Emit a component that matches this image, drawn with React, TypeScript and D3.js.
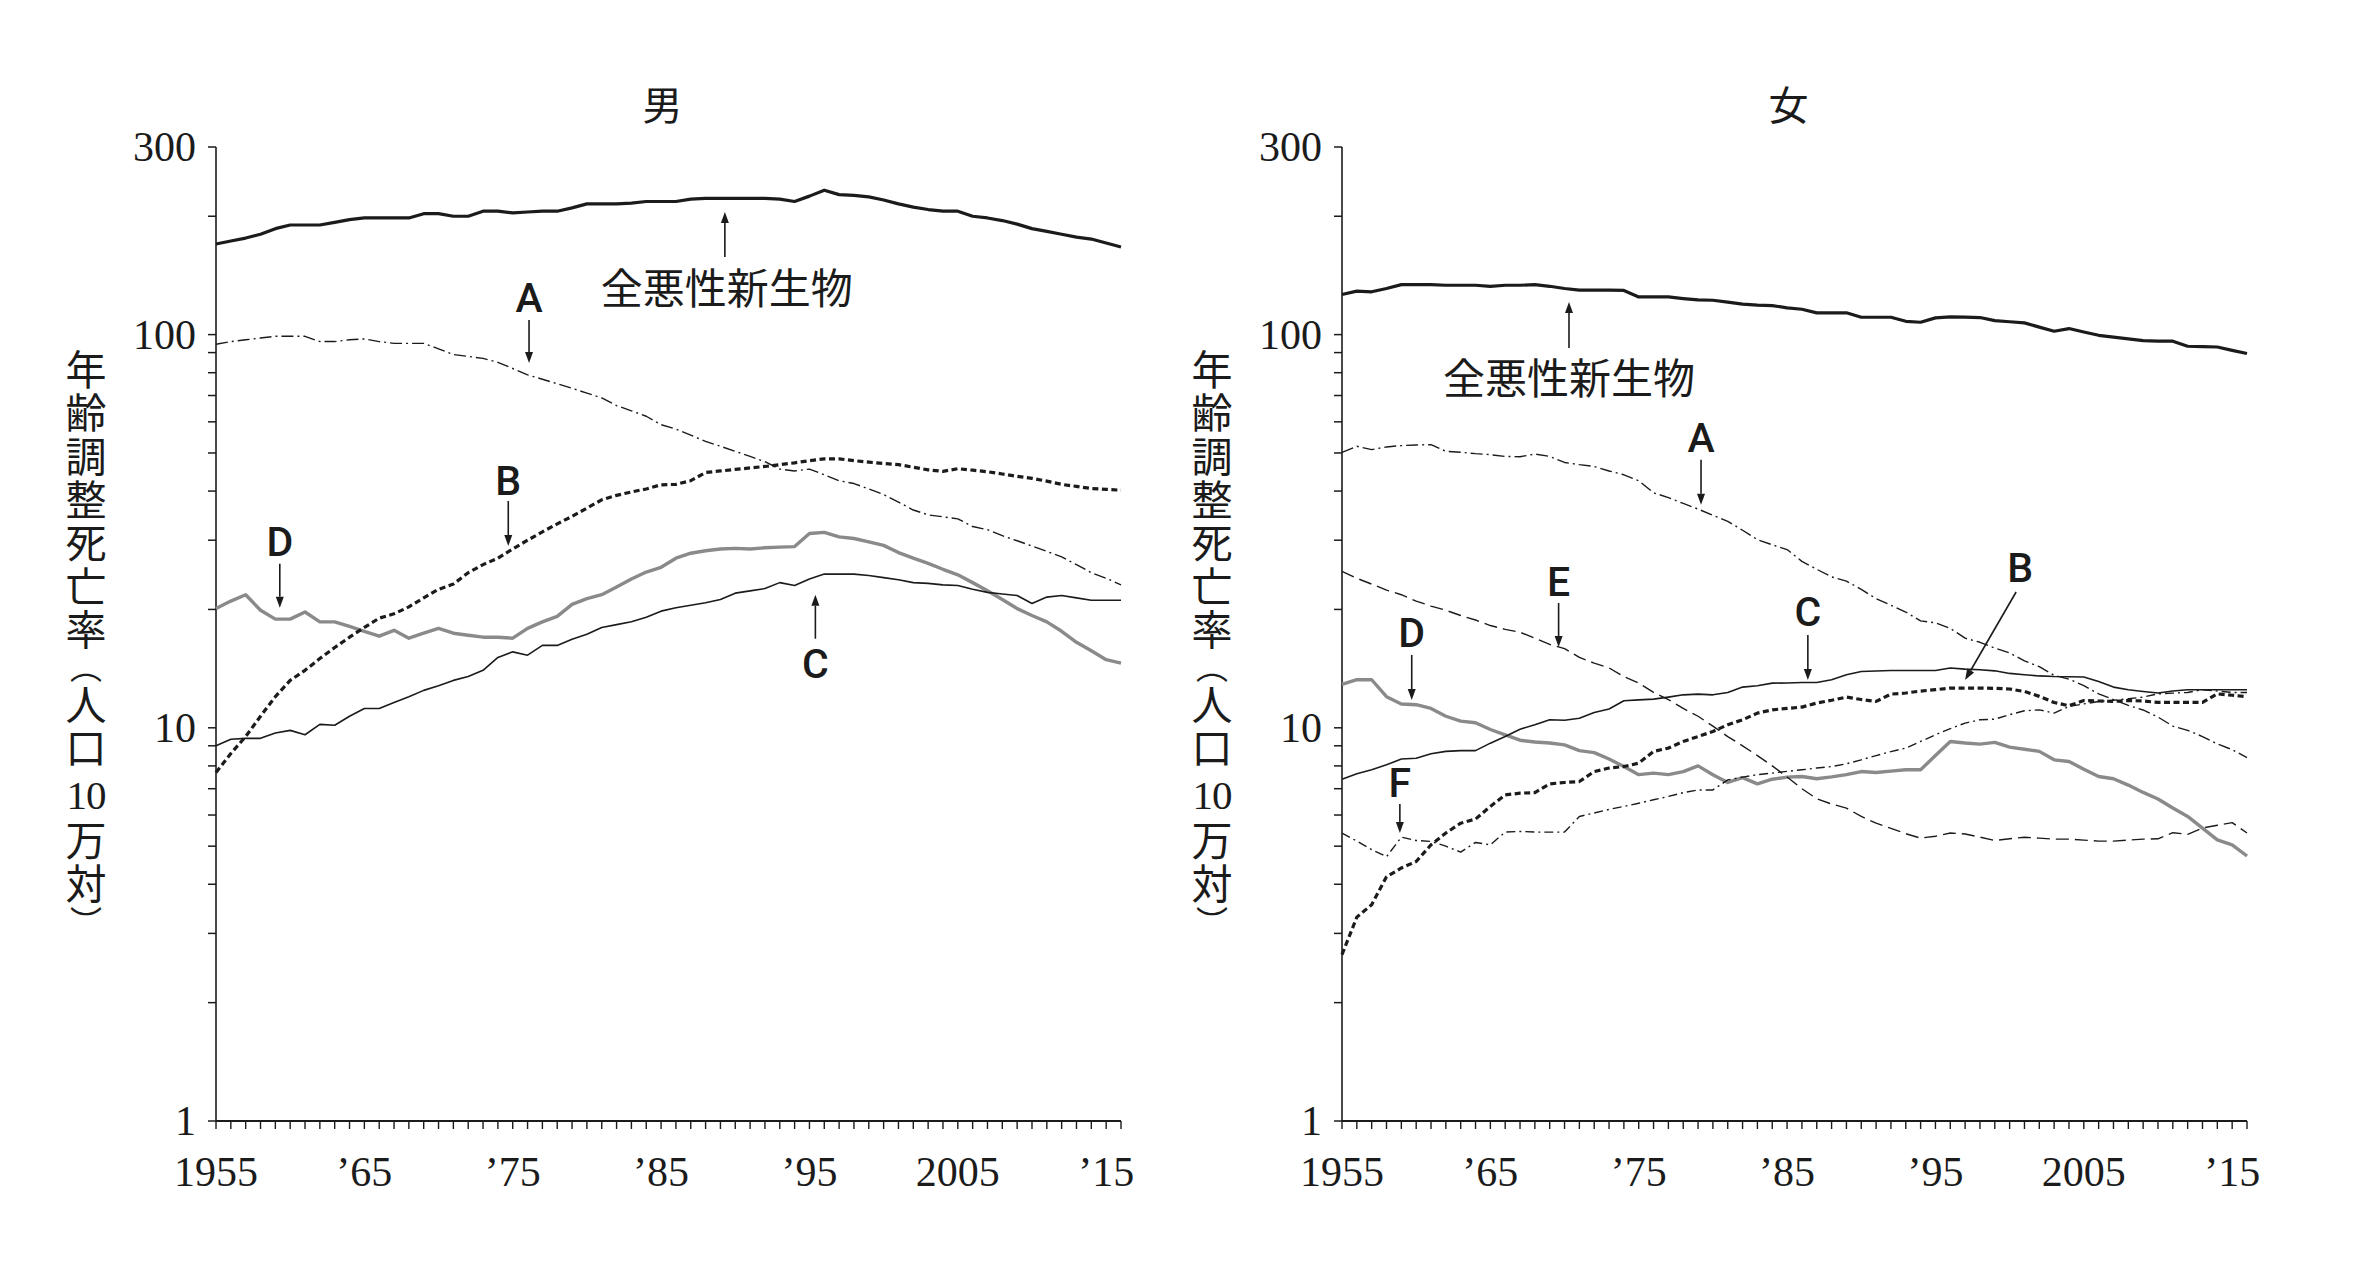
import React from "react";
import * as d3 from "d3";

// ---------- data (age-adjusted death rate per 100,000) ----------
const years: number[] = d3.range(1955, 2017);

const maleTotal = [
  170, 173, 176, 180, 186, 190, 190, 190, 193, 196,
  198, 198, 198, 198, 203, 203, 200, 200, 206, 206,
  204, 205, 206, 206, 210, 215, 215, 215, 216, 218,
  218, 218, 221, 222, 222, 222, 222, 222, 221, 218,
  225, 233, 227, 226, 224, 220, 215, 211, 208, 206,
  206, 200, 198, 195, 191, 186, 183, 180, 177, 175,
  171, 167,
];
const maleA = [
  94.5, 96, 97, 98, 99, 99, 99, 96, 96, 97,
  97.5, 96, 95, 95, 95, 92, 89, 88, 87, 85,
  82, 79, 77, 75, 73, 71, 69, 66, 64, 62,
  59, 57.5, 55.5, 53.5, 52, 50.5, 49, 47.5, 45.5, 45,
  45.5, 44, 42.5, 41.8, 40.5, 39.2, 37.5, 35.8, 34.8, 34.4,
  34, 32.5, 31.9, 30.8, 29.9, 29, 28.1, 27.2, 26, 24.8,
  24, 23.1,
];
const maleB = [
  7.7, 8.6, 9.5, 10.7, 12.0, 13.2, 14.0, 15.0, 16.0, 17.0,
  18.0, 19.0, 19.5, 20.3, 21.4, 22.5, 23.2, 24.8, 26.0, 27.0,
  28.5, 30.0, 31.5, 33.0, 34.5, 36.2, 38.0, 39.0, 39.8, 40.5,
  41.5, 41.6, 42.5, 44.6, 45.0, 45.4, 45.8, 46.2, 46.7, 47.2,
  47.8, 48.3, 48.3, 47.8, 47.4, 47.0, 46.7, 46.0, 45.3, 44.9,
  45.6, 45.2, 44.8, 44.2, 43.6, 43.1, 42.4, 41.6, 41.1, 40.6,
  40.4, 40.2,
];
const maleC = [
  9.0, 9.35, 9.4, 9.4, 9.7, 9.85, 9.6, 10.2, 10.15, 10.7,
  11.2, 11.2, 11.6, 12.0, 12.45, 12.8, 13.2, 13.5, 14.0, 15.1,
  15.6, 15.3, 16.2, 16.2, 16.8, 17.3, 18.0, 18.3, 18.6, 19.1,
  19.8, 20.2, 20.5, 20.8, 21.2, 22.0, 22.3, 22.6, 23.4, 23.0,
  23.9, 24.6, 24.6, 24.6, 24.4, 24.1, 23.8, 23.4, 23.3, 23.1,
  23.0, 22.5, 22.1, 21.9, 21.7, 20.7, 21.5, 21.7, 21.4, 21.1,
  21.1, 21.1,
];
const maleD = [
  20.1, 21.0, 21.8, 19.9, 18.9, 18.9, 19.7, 18.6, 18.6, 18.1,
  17.6, 17.1, 17.7, 16.9, 17.4, 17.9, 17.4, 17.2, 17.0, 17.0,
  16.9, 17.9, 18.6, 19.2, 20.6, 21.3, 21.8, 22.8, 23.9, 24.9,
  25.6, 27.0, 27.8, 28.2, 28.5, 28.6, 28.5, 28.7, 28.8, 28.9,
  31.2, 31.4, 30.6, 30.3, 29.7, 29.1, 27.9, 27.0, 26.2, 25.3,
  24.5, 23.4, 22.3, 21.2, 20.1, 19.3, 18.6, 17.6, 16.5, 15.7,
  14.9, 14.6,
];

const femaleTotal = [
  126.5, 129, 128.5, 131, 134, 134, 134, 133.5, 133.5, 133.5,
  132.7, 133.5, 133.5, 134, 132.7, 131, 129.7, 129.7, 129.7, 129.5,
  124.7, 124.7, 124.7, 123.5, 122.5, 122.3, 121, 119.5, 118.8, 118.5,
  117, 116, 113.6, 113.6, 113.6, 110.7, 110.7, 110.7, 108.1, 107.5,
  110.3, 110.9, 110.8, 110.5, 108.5, 107.8, 107.1, 104.5, 102, 103.6,
  101.5, 99.6, 98.5, 97.5, 96.5, 96.3, 96.2, 93.4, 93.2, 93.0,
  91.2, 89.5,
];
const femaleA = [
  50.2, 52.0, 51.0, 51.8, 52.2, 52.4, 52.5, 50.5, 50.2, 49.8,
  49.5, 49.0, 48.9, 49.7, 49.0, 47.3, 46.7, 46.2, 45.0, 44.0,
  42.5, 39.6, 38.5, 37.2, 36.0, 34.7, 33.5, 31.8, 30.1, 29.2,
  28.4, 26.5, 25.3, 24.2, 23.6, 22.5, 21.3, 20.5, 19.7, 18.7,
  18.5, 17.9, 16.9, 16.5, 15.95, 15.5, 14.8, 14.3, 13.6, 13.3,
  12.8, 12.2, 11.8, 11.4, 11.1, 10.65, 10.1, 9.85, 9.5, 9.1,
  8.8, 8.4,
];
const femaleB = [
  2.65, 3.3, 3.55, 4.18, 4.4, 4.57, 5.04, 5.4, 5.72, 5.86,
  6.31, 6.75, 6.82, 6.84, 7.2, 7.26, 7.3, 7.74, 7.9, 7.97,
  8.13, 8.71, 8.88, 9.23, 9.5, 9.79, 10.18, 10.48, 10.9, 11.11,
  11.2, 11.29, 11.56, 11.75, 11.97, 11.8, 11.67, 12.18, 12.26, 12.4,
  12.5, 12.62, 12.62, 12.62, 12.6, 12.55, 12.37, 12.02, 11.6, 11.38,
  11.73, 11.7, 11.67, 11.73, 11.7, 11.6, 11.6, 11.6, 11.6, 12.2,
  12.1, 12.0,
];
const femaleC = [
  7.4, 7.64, 7.82, 8.05, 8.33, 8.37, 8.59, 8.71, 8.75, 8.75,
  9.14, 9.5, 9.92, 10.18, 10.48, 10.45, 10.58, 10.94, 11.16, 11.72,
  11.78, 11.83, 11.97, 12.13, 12.18, 12.13, 12.3, 12.69, 12.79, 12.99,
  13.0, 13.04, 13.04, 13.25, 13.64, 13.91, 13.95, 13.99, 13.99, 13.99,
  13.99, 14.19, 14.1, 14.05, 13.96, 13.75, 13.64, 13.55, 13.5, 13.48,
  13.46, 13.12, 12.69, 12.5, 12.37, 12.26, 12.4, 12.5, 12.5, 12.5,
  12.5, 12.5,
];
const femaleD = [
  12.9, 13.25, 13.25, 12.0, 11.5, 11.45, 11.2, 10.7, 10.4, 10.3,
  9.9, 9.6, 9.3, 9.2, 9.15, 9.05, 8.75, 8.65, 8.33, 7.97,
  7.6, 7.67, 7.6, 7.74, 8.0, 7.6, 7.26, 7.47, 7.2, 7.4,
  7.49, 7.52, 7.42, 7.5, 7.6, 7.74, 7.7, 7.76, 7.82, 7.82,
  8.5, 9.23, 9.15, 9.09, 9.18, 8.93, 8.82, 8.71, 8.29, 8.21,
  7.85, 7.52, 7.42, 7.15, 6.85, 6.59, 6.25, 5.95, 5.56, 5.19,
  5.04, 4.72,
];
const femaleE = [
  25.0, 24.0, 23.2, 22.4, 21.8, 21.0, 20.4, 19.9, 19.3, 18.8,
  18.2, 17.8, 17.5, 16.9, 16.3, 15.9, 15.1, 14.6, 14.2, 13.5,
  13.0, 12.3, 11.8, 11.2, 10.7, 10.1, 9.5, 9.0, 8.5, 8.0,
  7.5, 7.0, 6.6, 6.4, 6.25, 5.95, 5.72, 5.55, 5.38, 5.24,
  5.3, 5.4, 5.37, 5.27, 5.17, 5.22, 5.27, 5.24, 5.21, 5.21,
  5.18, 5.15, 5.15, 5.18, 5.21, 5.22, 5.41, 5.36, 5.56, 5.65,
  5.74, 5.4,
];
const femaleF = [
  5.4, 5.15, 4.9, 4.7, 5.27, 5.17, 5.14, 5.0, 4.83, 5.11,
  5.04, 5.43, 5.45, 5.43, 5.43, 5.43, 5.95, 6.07, 6.2, 6.31,
  6.43, 6.56, 6.69, 6.84, 6.95, 6.95, 7.37, 7.49, 7.6, 7.67,
  7.75, 7.82, 7.9, 7.97, 8.1, 8.29, 8.5, 8.7, 8.88, 9.23,
  9.6, 9.95, 10.28, 10.48, 10.52, 10.8, 11.05, 11.11, 10.9, 11.33,
  11.5, 11.67, 11.75, 11.85, 11.97, 12.2, 12.25, 12.3, 12.5, 12.4,
  12.3, 12.3,
];

const yTickLabels = [1, 10, 100, 300];
const yMinorTicks = [2, 3, 4, 5, 6, 7, 8, 9, 20, 30, 40, 50, 60, 70, 80, 90, 200];
const xLabelYears = [1955, 1965, 1975, 1985, 1995, 2005, 2015];
const xLabelTexts = ["1955", "’65", "’75", "’85", "’95", "2005", "’15"];

const titles = ["男", "女"];
const totalLabel = "全悪性新生物";
// vertical axis title pieces: 年齢調整死亡率（人口10万対）
const yTitleMain = "年齢調整死亡率";
const yTitleOpen = "（";
const yTitleUnitA = "人口";
const yTitleNum = "10";
const yTitleUnitB = "万対";
const yTitleClose = "）";

// ---------- layout / styles ----------
const PANEL_W = 905;
const LEFT_X0 = 216;
const RIGHT_X0 = 1342;
const Y_TOP = 147;
const Y_BOTTOM = 1121;
const INK = "#1b1b1b";
const GRAY = "#8a8a8a";
const CJK = "'Noto Sans CJK JP'";

type Style = { stroke: string; width: number; dash?: string };
const STY: Record<string, Style> = {
  T: { stroke: INK, width: 3.2 },
  A: { stroke: INK, width: 1.4, dash: "12 4 2 4" },
  B: { stroke: INK, width: 3.2, dash: "6 3.5" },
  C: { stroke: INK, width: 1.6 },
  D: { stroke: GRAY, width: 3.4 },
  E: { stroke: INK, width: 1.4, dash: "13 6" },
  F: { stroke: INK, width: 1.4, dash: "9 4 2 4" },
};

type Note = {
  label: string;
  year: number;
  value: number;
  tdx: number;
  tdy: number;
  ldx: number;
  ldy: number;
  big?: boolean;
};

const maleNotes: Note[] = [
  { label: totalLabel, year: 1989.3, value: 205, tdx: 0, tdy: 45, ldx: 2, ldy: 73, big: true },
  { label: "A", year: 1976.1, value: 84.7, tdx: 0, tdy: -43, ldx: 0, ldy: -65 },
  { label: "B", year: 1974.7, value: 29.0, tdx: 0, tdy: -45, ldx: 0, ldy: -65 },
  { label: "D", year: 1959.3, value: 20.2, tdx: 0, tdy: -44, ldx: 0, ldy: -66 },
  { label: "C", year: 1995.4, value: 21.8, tdx: 0, tdy: 44, ldx: 0, ldy: 69 },
];
const femaleNotes: Note[] = [
  { label: totalLabel, year: 1970.3, value: 121, tdx: 0, tdy: 46, ldx: 0, ldy: 73, big: true },
  { label: "A", year: 1979.2, value: 36.9, tdx: 0, tdy: -45, ldx: 0, ldy: -67 },
  { label: "E", year: 1969.6, value: 16.05, tdx: 0, tdy: -44, ldx: 0, ldy: -65 },
  { label: "D", year: 1959.7, value: 11.77, tdx: 0, tdy: -45, ldx: 0, ldy: -67 },
  { label: "F", year: 1958.9, value: 5.4, tdx: 0, tdy: -29, ldx: 0, ldy: -50 },
  { label: "C", year: 1986.4, value: 13.23, tdx: 0, tdy: -45, ldx: 0, ldy: -68 },
  { label: "B", year: 1997.0, value: 13.23, tdx: 51, tdy: -88, ldx: 55, ldy: -112 },
];

type Series = { values: number[]; key: string };

function VText({ x, y, size, ls, children }: { x: number; y: number; size: number; ls: number; children: string }) {
  return (
    <text
      x={x}
      y={y}
      fontFamily={CJK}
      fontSize={size}
      fill={INK}
      style={{ writingMode: "vertical-rl", letterSpacing: `${ls}px` } as React.CSSProperties}
    >
      {children}
    </text>
  );
}

function Panel({ x0, title, series, notes }: { x0: number; title: string; series: Series[]; notes: Note[] }) {
  const x = d3.scaleLinear().domain([1955, 2016]).range([x0, x0 + PANEL_W]);
  const y = d3.scaleLog().domain([1, 300]).range([Y_BOTTOM, Y_TOP]);
  const line = d3
    .line<number>()
    .x((_, i) => x(years[i]))
    .y((d) => y(d));

  const labelX = x0 - 130;
  return (
    <g>
      {/* title */}
      <text
        x={x0 + PANEL_W / 2 - 6}
        y={103}
        fontFamily={CJK}
        fontSize={40}
        textAnchor="middle"
        dominantBaseline="central"
        fill={INK}
      >
        {title}
      </text>

      {/* vertical y-axis title */}
      <VText x={labelX} y={349} size={41} ls={2.3}>{yTitleMain}</VText>
      <VText x={labelX} y={651} size={32} ls={0}>{yTitleOpen}</VText>
      <VText x={labelX} y={684} size={41} ls={2}>{yTitleUnitA}</VText>
      <text
        x={labelX}
        y={809}
        fontFamily="'Liberation Serif', serif"
        fontSize={41}
        textAnchor="middle"
        fill={INK}
        letterSpacing={-1}
      >
        {yTitleNum}
      </text>
      <VText x={labelX} y={819.5} size={41} ls={2}>{yTitleUnitB}</VText>
      <VText x={labelX} y={906} size={32} ls={0}>{yTitleClose}</VText>

      {/* y axis */}
      <line x1={x0} x2={x0} y1={y(300)} y2={y(1)} stroke={INK} strokeWidth={1.6} />
      {[...yTickLabels, ...yMinorTicks].map((v) => (
        <line key={"yt" + v} x1={x0 - 8} x2={x0} y1={y(v)} y2={y(v)} stroke={INK} strokeWidth={1.5} />
      ))}
      {yTickLabels.map((v) => (
        <text
          key={"yl" + v}
          x={x0 - 20}
          y={y(v) + 14}
          fontFamily="'Liberation Serif', serif"
          fontSize={42}
          textAnchor="end"
          fill={INK}
        >
          {v}
        </text>
      ))}

      {/* x axis */}
      <line x1={x0} x2={x(2016)} y1={Y_BOTTOM} y2={Y_BOTTOM} stroke={INK} strokeWidth={2} />
      {years.map((yr) => (
        <line key={"xt" + yr} x1={x(yr)} x2={x(yr)} y1={Y_BOTTOM} y2={Y_BOTTOM + 8} stroke={INK} strokeWidth={1.4} />
      ))}
      {xLabelYears.map((yr, i) => (
        <text
          key={"xl" + yr}
          x={x(yr)}
          y={1186}
          fontFamily="'Liberation Serif', serif"
          fontSize={42}
          textAnchor="middle"
          fill={INK}
        >
          {xLabelTexts[i]}
        </text>
      ))}

      {/* series */}
      {series.map((s) => {
        const st = STY[s.key];
        return (
          <path
            key={s.key}
            d={line(s.values) || ""}
            fill="none"
            stroke={st.stroke}
            strokeWidth={st.width}
            strokeDasharray={st.dash}
            strokeLinejoin="round"
          />
        );
      })}

      {/* annotations */}
      {notes.map((n, i) => {
        const tx = x(n.year);
        const ty = y(n.value);
        const sx = tx + n.tdx;
        const sy = ty + n.tdy;
        const len = Math.hypot(tx - sx, ty - sy);
        const ux = (tx - sx) / len;
        const uy = (ty - sy) / len;
        const hl = 11;
        const hw = 4;
        const bx = tx - ux * hl;
        const by = ty - uy * hl;
        const head = `M${tx},${ty} L${bx - uy * hw},${by + ux * hw} L${bx + uy * hw},${by - ux * hw} Z`;
        return (
          <g key={"n" + i}>
            <line x1={sx} y1={sy} x2={bx} y2={by} stroke={INK} strokeWidth={1.6} />
            <path d={head} fill={INK} />
            {n.big ? (
              <text
                x={tx + n.ldx}
                y={ty + n.ldy}
                fontFamily={CJK}
                fontSize={42}
                textAnchor="middle"
                dominantBaseline="central"
                fill={INK}
              >
                {n.label}
              </text>
            ) : (
              <text
                x={tx + n.ldx}
                y={ty + n.ldy + 14}
                fontFamily="Roboto, 'Liberation Sans', sans-serif"
                fontWeight={500}
                fontSize={41}
                textAnchor="middle"
                fill={INK}
              >
                {n.label}
              </text>
            )}
          </g>
        );
      })}
    </g>
  );
}

export default function App() {
  const male: Series[] = [
    { key: "D", values: maleD },
    { key: "C", values: maleC },
    { key: "A", values: maleA },
    { key: "B", values: maleB },
    { key: "T", values: maleTotal },
  ];
  const female: Series[] = [
    { key: "D", values: femaleD },
    { key: "E", values: femaleE },
    { key: "F", values: femaleF },
    { key: "C", values: femaleC },
    { key: "A", values: femaleA },
    { key: "B", values: femaleB },
    { key: "T", values: femaleTotal },
  ];
  return (
    <svg
      width={2356}
      height={1266}
      viewBox="0 0 2356 1266"
      style={{ position: "absolute", left: 0, top: 0, background: "#fff" }}
    >
      <rect x={0} y={0} width={2356} height={1266} fill="#fff" />
      <Panel x0={LEFT_X0} title={titles[0]} series={male} notes={maleNotes} />
      <Panel x0={RIGHT_X0} title={titles[1]} series={female} notes={femaleNotes} />
    </svg>
  );
}
